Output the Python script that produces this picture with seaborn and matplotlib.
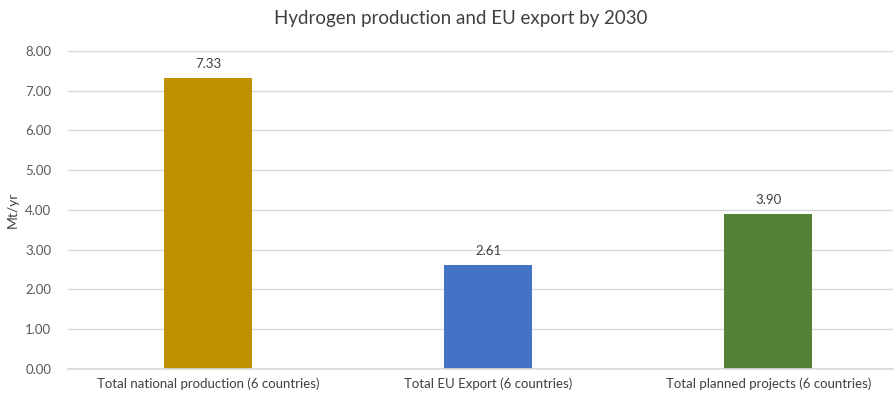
import matplotlib
matplotlib.use("Agg")
import matplotlib.pyplot as plt
import seaborn as sns
import pandas as pd

categories = [
    "Total national production (6 countries)",
    "Total EU Export (6 countries)",
    "Total planned projects (6 countries)",
]
values = [7.33, 2.61, 3.90]
colors = ["#BF9000", "#4472C4", "#548235"]
y_ticks = [0, 1, 2, 3, 4, 5, 6, 7, 8]

sns.set_theme(style="white")
plt.rcParams["font.family"] = ["Lato", "DejaVu Sans"]

df = pd.DataFrame({"category": categories, "value": values})

fig = plt.figure(figsize=(8.95, 3.94), dpi=100)
ax = fig.add_axes([0.076, 0.0635, 0.922, 0.8071])

sns.barplot(data=df, x="category", y="value", hue="category",
            palette=colors, width=0.314, legend=False, ax=ax,
            saturation=1, linewidth=0, zorder=3)

for patch, v in zip(ax.patches, values):
    ax.text(patch.get_x() + patch.get_width() / 2, v + 0.2, f"{v:.2f}",
            ha="center", va="bottom", fontsize=9.5, color="#404040")

ax.set_ylim(0, 8)
ax.set_yticks(y_ticks)
ax.set_yticklabels([f"{t:.2f}" for t in y_ticks], fontsize=9.5, color="#595959")
ax.set_xlim(-0.5, 2.446)
ax.tick_params(axis="x", labelsize=9.5, labelcolor="#404040", length=0, pad=6)
ax.tick_params(axis="y", length=0, pad=12)

ax.yaxis.grid(True, color="#D9D9D9", linewidth=1, zorder=0)
for s in ["top", "right", "left"]:
    ax.spines[s].set_visible(False)
ax.spines["bottom"].set_color("#D9D9D9")
ax.spines["bottom"].set_zorder(4)

ax.set_xlabel("")
ax.set_ylabel("Mt/yr", fontsize=10, color="#404040")
ax.yaxis.set_label_coords(-0.06, 0.5)

fig.suptitle("Hydrogen production and EU export by 2030", x=0.515, y=0.975,
             fontsize=13.5, color="#404040")

fig.savefig("out.png", dpi=100)
